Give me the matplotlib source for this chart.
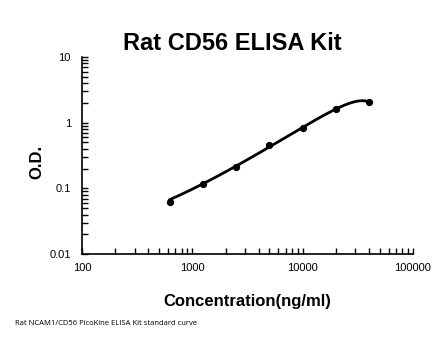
import numpy as np
import matplotlib.pyplot as plt

# standard curve readings
conc = [625, 1250, 2500, 5000, 10000, 20000, 40000]
od = [0.062, 0.117, 0.215, 0.455, 0.83, 1.62, 2.07]

title = "Rat CD56 ELISA Kit"
xlabel = "Concentration(ng/ml)"
ylabel = "O.D."
note = "Rat NCAM1/CD56 PicoKine ELISA Kit standard curve"

plt.rcParams["font.family"] = ["Liberation Sans", "DejaVu Sans"]

fig = plt.figure(figsize=(4.46, 3.56), dpi=100)
ax = fig.add_axes([0.184, 0.286, 0.742, 0.554])
ax.set_xscale("log")
ax.set_yscale("log")

# fitted curve: cubic polynomial on the raw values
popt = np.polyfit(conc, od, 3)
xs = np.logspace(np.log10(conc[0]), np.log10(conc[-1]), 200)
ax.plot(xs, np.polyval(popt, xs), color="black", lw=2)
ax.scatter(conc, od, s=18, color="black", zorder=3)

ax.set_xlim(100, 100000)
ax.set_ylim(0.01, 10)
ax.set_xticks([100, 1000, 10000, 100000])
ax.set_xticklabels(["100", "1000", "10000", "100000"])
ax.set_yticks([0.01, 0.1, 1, 10])
ax.set_yticklabels(["0.01", "0.1", "1", "10"])
ax.tick_params(which="both", direction="in", labelsize=8, width=1, colors="black", length=4)
ax.tick_params(axis="y", which="major", pad=8)
ax.tick_params(axis="x", which="major", pad=6)

for s in ["top", "right"]:
    ax.spines[s].set_visible(False)
for s in ["left", "bottom"]:
    ax.spines[s].set_linewidth(1.2)

fig.text(0.522, 0.878, title, ha="center", va="center", fontsize=17, fontweight="bold")
fig.text(0.083, 0.545, ylabel, ha="center", va="center", rotation=90, fontsize=12, fontweight="bold")
fig.text(0.555, 0.152, xlabel, ha="center", va="center", fontsize=12, fontweight="bold")
fig.text(0.034, 0.092, note, ha="left", va="center", fontsize=5.5, family=["Open Sans", "DejaVu Sans"])

fig.savefig("out.png", dpi=100)
